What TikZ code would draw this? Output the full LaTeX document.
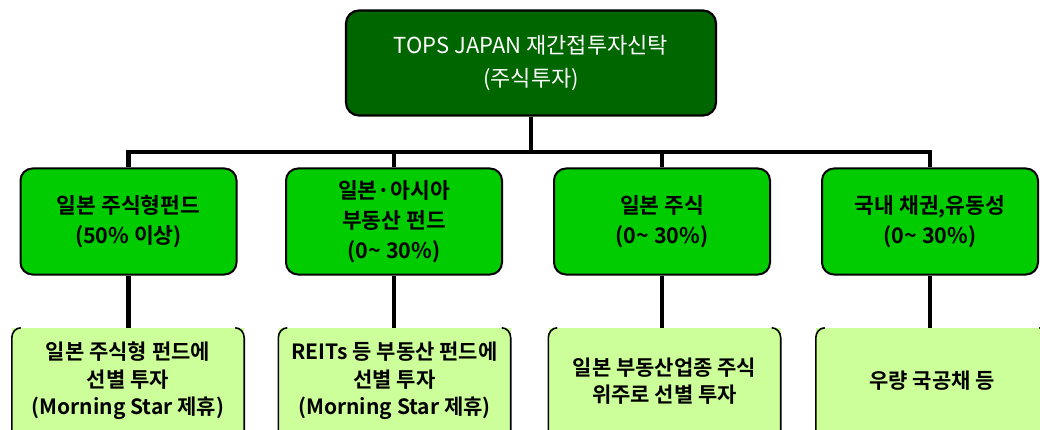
\documentclass[tikz,border=0pt]{standalone}
\usepackage{fontspec}
\setmainfont{Noto Sans CJK KR}[BoldFont={Noto Sans CJK KR Bold}]
\definecolor{dkgreen}{HTML}{006600}
\definecolor{midgreen}{HTML}{00CC00}
\definecolor{ltgreen}{HTML}{CCFF99}
\begin{document}
\begin{tikzpicture}[x=1pt,y=-1pt,
  topbox/.style={draw=black, line width=2.2pt, fill=dkgreen, rounded corners=13pt,
    minimum width=370pt, minimum height=105pt, inner sep=0pt, align=center,
    text=white, font=\fontsize{22}{33}\selectfont},
  midbox/.style={draw=black, line width=2pt, fill=midgreen, rounded corners=12pt,
    minimum width=216pt, minimum height=106pt, inner sep=0pt, align=center,
    font=\bfseries\fontsize{21.5}{30}\selectfont},
  lowbox/.style={fill=ltgreen, minimum width=232pt, minimum height=106pt, inner sep=0pt,
    align=center, font=\bfseries\fontsize{21}{27.5}\selectfont},
  bracket/.style={draw=black, line width=1.6pt},
  conn/.style={draw=black, line width=4.5pt}]
\useasboundingbox (0,0) rectangle (1040,430);
\fill[white] (0,0) rectangle (1040,430);
% top
\node[topbox] (top) at (531,63) {TOPS JAPAN 재간접투자신탁\\(주식투자)};
% level 2
\node[midbox] (b1) at (128.5,221.5) {일본 주식형펀드\\(50\% 이상)};
\node[midbox] (b2) at (394,221.5) {일본·아시아\\부동산 펀드\\(0\textasciitilde{} 30\%)};
\node[midbox] (b3) at (662,221.5) {일본 주식\\(0\textasciitilde{} 30\%)};
\node[midbox] (b4) at (930,221.5) {국내 채권,유동성\\(0\textasciitilde{} 30\%)};
% level 3
\node[lowbox] (c1) at (128,381) {일본 주식형 펀드에\\선별 투자\\(Morning Star 제휴)};
\node[lowbox] (c2) at (394.5,381) {REITs 등 부동산 펀드에\\선별 투자\\(Morning Star 제휴)};
\node[lowbox] (c3) at (664.5,381) {일본 부동산업종 주식\\위주로 선별 투자};
\node[lowbox] (c4) at (932,381) {우량 국공채 등};
\foreach \c in {c1,c2,c3,c4}{
  \draw[bracket] ([xshift=9pt]\c.north west) to[out=180,in=90] ([yshift=-10pt]\c.north west) -- (\c.south west);
  \draw[bracket] ([xshift=-9pt]\c.north east) to[out=0,in=90] ([yshift=-10pt]\c.north east) -- (\c.south east);
}
% connectors
\coordinate (bus) at (0,152);
\draw[conn] (top.south) -- (top.south |- bus);
\draw[conn] (b1.north) -- (b1.north |- bus) -- (b4.north |- bus) -- (b4.north);
\draw[conn] (b2.north) -- (b2.north |- bus);
\draw[conn] (b3.north) -- (b3.north |- bus);
\draw[conn] (b1.south) -- (b1.south |- c1.north);
\draw[conn] (b2.south) -- (b2.south |- c2.north);
\draw[conn] (b3.south) -- (b3.south |- c3.north);
\draw[conn] (b4.south) -- (b4.south |- c4.north);
\end{tikzpicture}
\end{document}
